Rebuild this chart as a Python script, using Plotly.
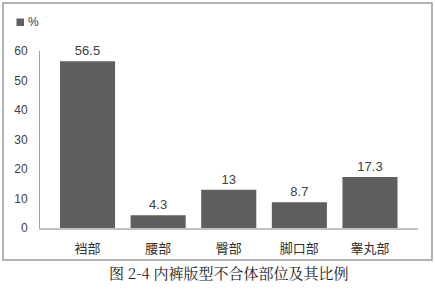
import plotly.graph_objects as go

categories = ["裆部", "腰部", "臀部", "脚口部", "睾丸部"]
values = [56.5, 4.3, 13, 8.7, 17.3]
value_labels = ["56.5", "4.3", "13", "8.7", "17.3"]
y_ticks = [0, 10, 20, 30, 40, 50, 60]
series_name = "%"
caption = "图 2-4 内裤版型不合体部位及其比例"

bar_color = "#5f5f5f"
text_color = "#404040"
font_fam = "Liberation Sans, Noto Sans CJK SC, sans-serif"

W, H = 435, 290
L, R, T, B = 40, 17, 51, 62
pw = W - L - R
ph = H - T - B

def px(x):
    return (x - L) / pw

def py(y):
    return (H - B - y) / ph

fig = go.Figure()
fig.add_trace(go.Bar(
    x=categories, y=values, name=series_name,
    marker=dict(color=bar_color, line=dict(width=0)),
    width=0.78,
    text=value_labels, textposition="outside",
    textfont=dict(size=13, color=text_color, family=font_fam),
    cliponaxis=False, showlegend=False,
))

fig.update_layout(
    width=W, height=H,
    margin=dict(l=L, r=R, t=T, b=B),
    paper_bgcolor="white", plot_bgcolor="white",
    font=dict(family=font_fam, color=text_color),
    xaxis=dict(
        type="category", range=[-0.673, 4.68],
        showline=True, linecolor="#c0c0c0", linewidth=1.5,
        showgrid=False, ticks="", zeroline=False,
        tickfont=dict(size=13, color="#303030", family="Noto Sans CJK SC"),
        ticklabelstandoff=8,
    ),
    yaxis=dict(
        range=[0, 60], tickvals=y_ticks,
        showline=True, linecolor="#a0a0a0", linewidth=1,
        showgrid=False, ticks="", zeroline=False,
        tickfont=dict(size=12, color=text_color),
        ticklabelstandoff=9,
    ),
    shapes=[
        dict(type="rect", xref="paper", yref="paper",
             x0=px(3), x1=px(432), y0=py(260), y1=py(3),
             line=dict(color="#9a9a9a", width=1.5), fillcolor="rgba(0,0,0,0)"),
        dict(type="rect", xref="paper", yref="paper",
             x0=px(16.5), x1=px(24), y0=py(26), y1=py(18.5),
             line=dict(width=0), fillcolor=bar_color),
    ],
    annotations=[
        dict(text=series_name, xref="paper", yref="paper",
             x=px(26), y=py(22.5), xanchor="left", yanchor="middle",
             showarrow=False, font=dict(size=12, color=text_color)),
        dict(text=caption, xref="paper", yref="paper",
             x=px(229.5), y=py(272), xanchor="center", yanchor="middle",
             showarrow=False,
             font=dict(size=15, color="#202020",
                       family="Noto Serif CJK SC, Noto Sans CJK SC, serif")),
    ],
)

fig.write_html("out.html")
